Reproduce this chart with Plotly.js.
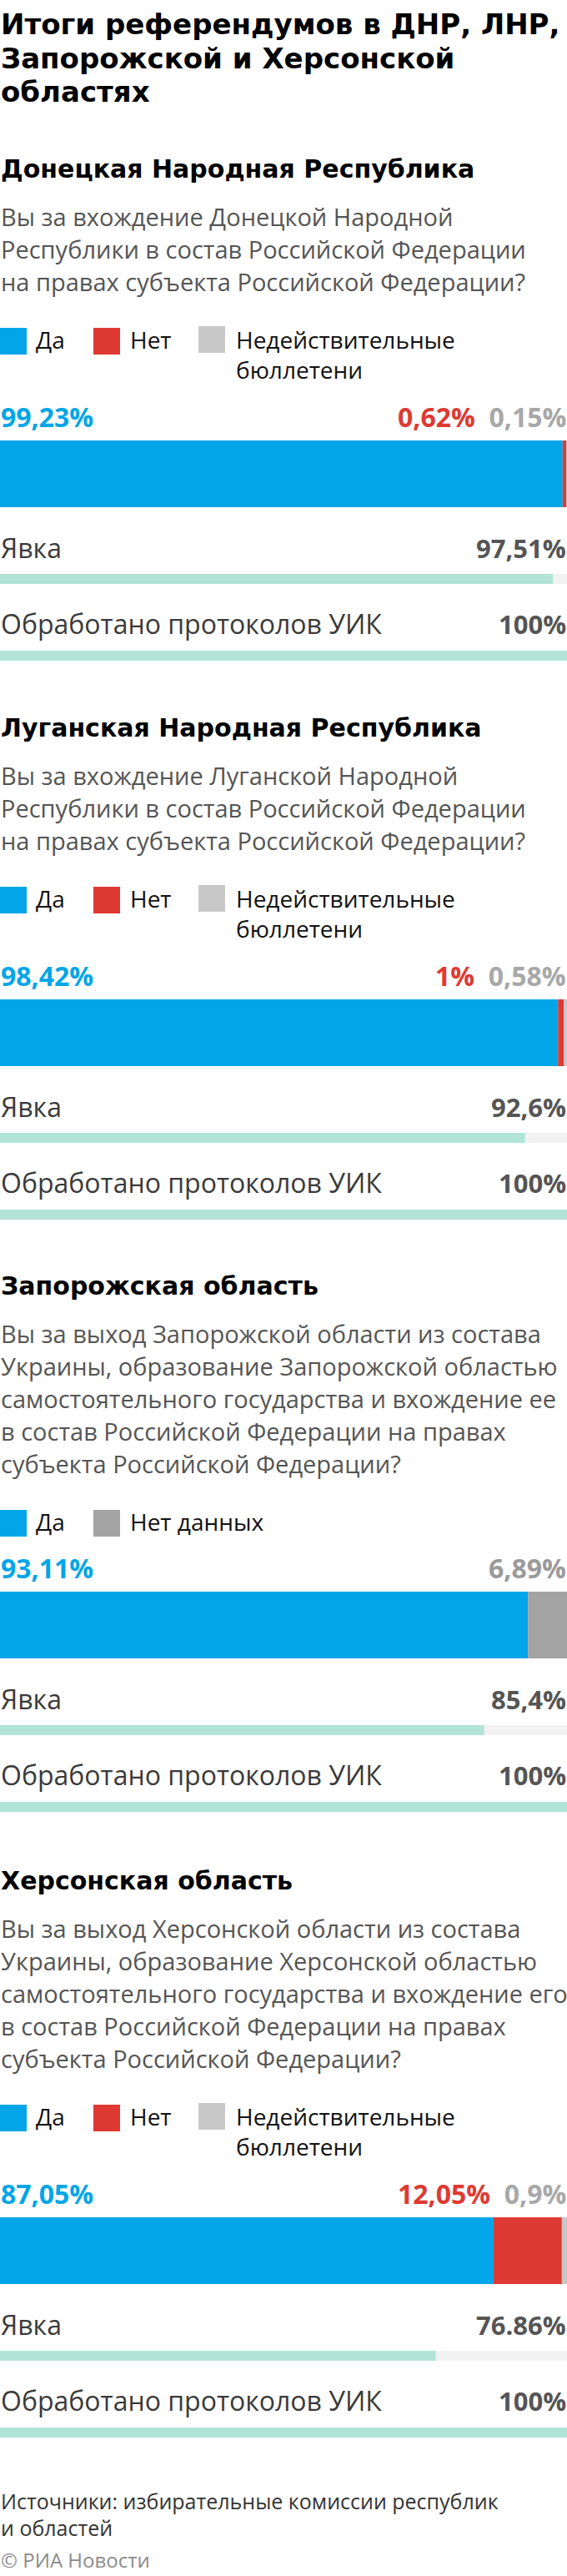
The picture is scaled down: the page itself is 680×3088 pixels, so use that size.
<!DOCTYPE html>
<html>
<head>
<meta charset="utf-8">
<script src="https://cdn.plot.ly/plotly-3.0.1.min.js"></script>
<style>
  html, body { margin: 0; padding: 0; background: #ffffff; }
  #chart { width: 680px; height: 3088px; }
</style>
</head>
<body>
<div id="chart"></div>
<script>
// ---------------- DATA ----------------
const titleLines = ['Итоги референдумов в ДНР, ЛНР,', 'Запорожской и Херсонской', 'областях'];
const regions = ['Донецкая Народная Республика', 'Луганская Народная Республика', 'Запорожская область', 'Херсонская область'];
const questions = [
  ['Вы за вхождение Донецкой Народной', 'Республики в состав Российской Федерации', 'на правах субъекта Российской Федерации?'],
  ['Вы за вхождение Луганской Народной', 'Республики в состав Российской Федерации', 'на правах субъекта Российской Федерации?'],
  ['Вы за выход Запорожской области из состава', 'Украины, образование Запорожской областью', 'самостоятельного государства и вхождение ее', 'в состав Российской Федерации на правах', 'субъекта Российской Федерации?'],
  ['Вы за выход Херсонской области из состава', 'Украины, образование Херсонской областью', 'самостоятельного государства и вхождение его', 'в состав Российской Федерации на правах', 'субъекта Российской Федерации?']
];
const yesPct     = [99.23, 98.42, 93.11, 87.05];
const noPct      = [0.62, 1, null, 12.05];
const invalidPct = [0.15, 0.58, null, 0.9];
const noDataPct  = [null, null, 6.89, null];
const yesLabels     = ['99,23%', '98,42%', '93,11%', '87,05%'];
const noLabels      = ['0,62%', '1%', null, '12,05%'];
const invalidLabels = ['0,15%', '0,58%', null, '0,9%'];
const noDataLabels  = [null, null, '6,89%', null];
const turnout       = [97.51, 92.6, 85.4, 76.86];
const turnoutLabels = ['97,51%', '92,6%', '85,4%', '76.86%'];
const processed       = [100, 100, 100, 100];
const processedLabels = ['100%', '100%', '100%', '100%'];
const legendYes = 'Да', legendNo = 'Нет', legendInvalid = 'Недействительные<br>бюллетени', legendNoData = 'Нет данных';
const turnoutName = 'Явка', processedName = 'Обработано протоколов УИК';
const sourceLines = ['Источники: избирательные комиссии республик', 'и областей'];
const credit = '© РИА Новости';

// ---------------- STYLE / LAYOUT ----------------
const W = 680, H = 3088;
const C = { yes: '#02a6e8', no: '#de3a33', invalid: '#c8c8c8', nodata: '#a3a3a3',
            green: '#b2e4d6', track: '#f2f2f2', q: '#555555', label: '#3a3a3a', value: '#555555',
            pctInvalid: '#a8a8a8', pctNoData: '#9a9a9a' };
const HEAD = 'DejaVu Sans, sans-serif';
const BODY = 'Open Sans, sans-serif';

// vertical block anchors (pixels from top) for each region: header baseline
const headBase = [213, 883, 1552, 2265];

const annotations = [];
const shapes = [];
function kOf(fam) { return fam === HEAD ? 0.346 : 0.388; }
function txt(text, xpx, baseline, size, color, bold, anchor, fam) {
  annotations.push({
    text: text, xref: 'paper', yref: 'y', x: xpx / W, y: baseline - kOf(fam) * size,
    xanchor: anchor || 'left', yanchor: 'middle', showarrow: false, borderpad: 0,
    align: anchor === 'right' ? 'right' : 'left',
    font: { family: fam, size: size, color: color, weight: bold ? 700 : 400 }
  });
}

// title
titleLines.forEach((t, i) => txt(t, 0, 41 + i * 40.5, 34, '#000', true, 'left', HEAD));

const barY = [], turnY = [], procY = [];
regions.forEach((r, i) => {
  const hb = headBase[i];
  txt(r, 0, hb, 30, '#000', true, 'left', HEAD);
  const q = questions[i];
  q.forEach((line, j) => txt(line, 0, hb + 58 + j * 39, 29, C.q, false, 'left', BODY));
  const qLast = hb + 58 + (q.length - 1) * 39;
  const legTop = qLast + 44;
  const twoLine = invalidPct[i] !== null;
  // legend
  const items = [[C.yes, legendYes, 0, 42]];
  if (noPct[i] !== null) items.push([C.no, legendNo, 112, 155]);
  if (invalidPct[i] !== null) items.push([C.invalid, legendInvalid, 238, 282]);
  if (noDataPct[i] !== null) items.push([C.nodata, legendNoData, 112, 155]);
  items.forEach(([col, label, sx, tx]) => {
    const top = col === C.invalid ? legTop - 2 : legTop;
    shapes.push({ type: 'rect', xref: 'paper', yref: 'y', x0: sx / W, x1: (sx + 32) / W, y0: top, y1: top + 32,
                  fillcolor: col, line: { width: 0 } });
    const parts = label.split('<br>');
    parts.forEach((p, k) => txt(p, tx, legTop + 25 + k * 36, 28, '#111', false, 'left', BODY));
  });
  const pctCenter = legTop + (twoLine ? 108 : 71);
  const barTop = pctCenter + 27;
  // percentage labels
  txt(yesLabels[i], 0, pctCenter + 11, 32, C.yes, true, 'left', BODY);
  let right = '';
  if (noLabels[i] !== null) right += '<span style="color:' + C.no + '">' + noLabels[i] + '</span>\u00A0\u00A0';
  if (invalidLabels[i] !== null) right += '<span style="color:' + C.pctInvalid + '">' + invalidLabels[i] + '</span>';
  if (noDataLabels[i] !== null) right += '<span style="color:' + C.pctNoData + '">' + noDataLabels[i] + '</span>';
  txt(right, W, pctCenter + 11, 32, C.pctInvalid, true, 'right', BODY);
  barY.push(barTop + 40);
  // turnout
  txt(turnoutName, 0, barTop + 141, 32, C.label, false, 'left', BODY);
  txt(turnoutLabels[i], W, barTop + 141, 31, C.value, true, 'right', BODY);
  turnY.push(barTop + 166);
  txt(processedName, 0, barTop + 232, 32, C.label, false, 'left', BODY);
  txt(processedLabels[i], W, barTop + 232, 31, C.value, true, 'right', BODY);
  procY.push(barTop + 258);
});

txt(sourceLines[0], 0, 3008, 25, '#333333', false, 'left', BODY);
txt(sourceLines[1], 0, 3040, 25, '#333333', false, 'left', BODY);
txt(credit, 0, 3078, 24, '#8c8c8c', false, 'left', BODY);

const sum = (a, b) => (a || 0) + (b || 0);
const traces = [
  { type: 'bar', orientation: 'h', name: legendYes, x: yesPct, y: barY, width: 80, base: 0,
    marker: { color: C.yes, line: { width: 0 } } },
  { type: 'bar', orientation: 'h', name: legendNo, x: noPct, y: barY, width: 80,
    base: yesPct, marker: { color: C.no, line: { width: 0 } } },
  { type: 'bar', orientation: 'h', name: 'Недействительные бюллетени', x: invalidPct, y: barY, width: 80,
    base: yesPct.map((v, i) => sum(v, noPct[i])), marker: { color: C.invalid, line: { width: 0 } } },
  { type: 'bar', orientation: 'h', name: legendNoData, x: noDataPct, y: barY, width: 80,
    base: yesPct, marker: { color: C.nodata, line: { width: 0 } } },
  { type: 'bar', orientation: 'h', name: 'track', x: processed, y: turnY, width: 12, base: 0,
    marker: { color: C.track, line: { width: 0 } } },
  { type: 'bar', orientation: 'h', name: turnoutName, x: turnout, y: turnY, width: 12, base: 0,
    marker: { color: C.green, line: { width: 0 } } },
  { type: 'bar', orientation: 'h', name: processedName, x: processed, y: procY, width: 12, base: 0,
    marker: { color: C.green, line: { width: 0 } } }
];

const layout = {
  width: W, height: H,
  margin: { l: 0, r: 0, t: 0, b: 0, pad: 0 },
  paper_bgcolor: '#ffffff', plot_bgcolor: '#ffffff',
  barmode: 'overlay', showlegend: false, hovermode: false,
  xaxis: { range: [0, 100], visible: false, fixedrange: true, domain: [0, 1] },
  yaxis: { range: [H, 0], visible: false, fixedrange: true, domain: [0, 1] },
  annotations: annotations, shapes: shapes
};
Plotly.newPlot('chart', traces, layout, { staticPlot: true, displayModeBar: false });
</script>
</body>
</html>
